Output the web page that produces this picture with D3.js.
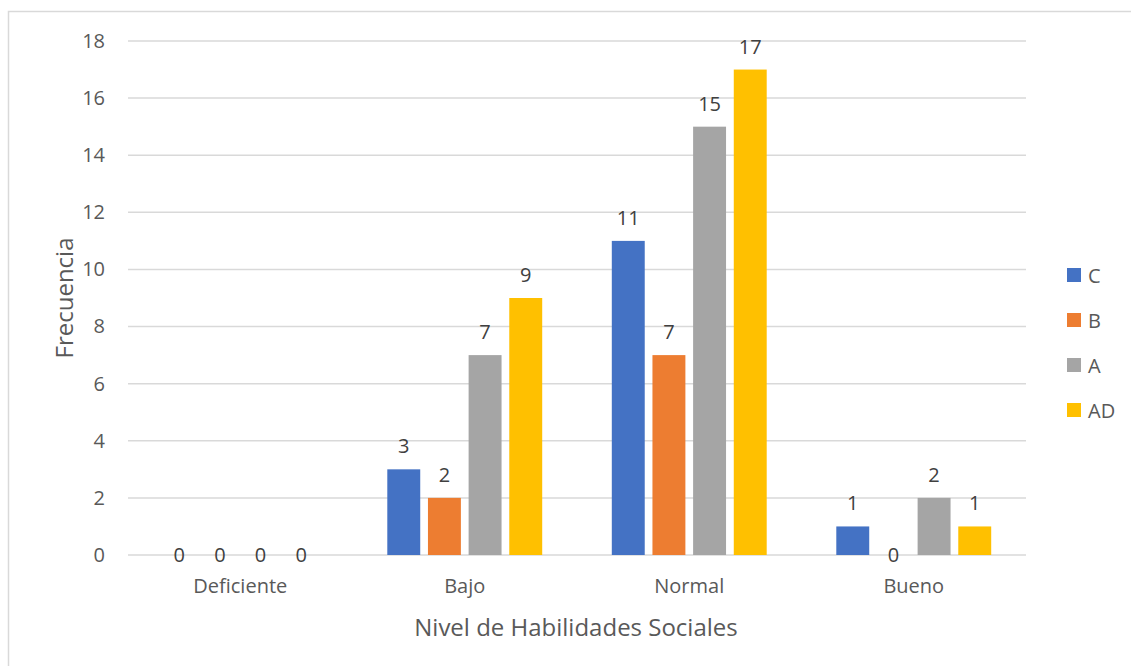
<!DOCTYPE html>
<html>
<head>
<meta charset="utf-8">
<script src="https://cdn.jsdelivr.net/npm/d3@7"></script>
<style>
  body { margin: 0; background: #fff; }
  svg text { font-family: "Open Sans", "Liberation Sans", sans-serif; }
</style>
</head>
<body>
<svg id="chart" width="1131" height="666"></svg>
<script>
'use strict'

const categories = ['Deficiente', 'Bajo', 'Normal', 'Bueno']
const seriesNames = ['C', 'B', 'A', 'AD']
const seriesColors = ['#4472c4', '#ed7d31', '#a5a5a5', '#ffc000']
const valuesC = [0, 3, 11, 1]
const valuesB = [0, 2, 7, 0]
const valuesA = [0, 7, 15, 2]
const valuesAD = [0, 9, 17, 1]
const yTicks = [0, 2, 4, 6, 8, 10, 12, 14, 16, 18]

const allValues = [valuesC, valuesB, valuesA, valuesAD]

const svg = d3.select('#chart')

// borde del gráfico
svg.append('rect')
  .attr('x', 8.5).attr('y', 11.5)
  .attr('width', 1140).attr('height', 680)
  .style('fill', 'none').style('stroke', '#d9d9d9').style('stroke-width', 1.5)

const plotLeft = 128, plotRight = 1026, plotTop = 41, plotBottom = 555

let scaleY = d3.scaleLinear().domain([0, 18]).range([plotBottom, plotTop])
let scaleX0 = d3.scaleBand().domain(categories).range([plotLeft, plotRight])
  .paddingInner(0.31).paddingOuter(0.155)
let scaleX1 = d3.scaleBand().domain(seriesNames).range([0, scaleX0.bandwidth()])
  .paddingInner(0.19)

// líneas de cuadrícula
svg.append('g').selectAll('line').data(yTicks).join('line')
  .attr('x1', plotLeft).attr('x2', plotRight)
  .attr('y1', d => scaleY(d)).attr('y2', d => scaleY(d))
  .style('stroke', '#d9d9d9').style('stroke-width', 1.5)

// eje Y
let axisY = d3.axisLeft(scaleY).tickValues(yTicks).tickSize(0).tickPadding(0)
let gy = svg.append('g').attr('transform', `translate(105, 0)`).call(axisY)
gy.select('.domain').remove()
gy.selectAll('text').style('font-size', '20px').style('fill', '#595959')

// eje X
let axisX = d3.axisBottom(scaleX0).tickSize(0).tickPadding(0)
let gx = svg.append('g').attr('transform', `translate(0, 579)`).call(axisX)
gx.select('.domain').remove()
gx.selectAll('text').style('font-size', '20px').style('fill', '#595959')

// barras
const rows = []
categories.forEach((c, i) => {
  seriesNames.forEach((s, j) => {
    rows.push({ cat: c, ser: s, v: allValues[j][i], color: seriesColors[j] })
  })
})

svg.append('g').selectAll('rect').data(rows).join('rect')
  .attr('x', d => scaleX0(d.cat) + scaleX1(d.ser))
  .attr('y', d => scaleY(d.v))
  .attr('width', scaleX1.bandwidth())
  .attr('height', d => scaleY(0) - scaleY(d.v))
  .style('fill', d => d.color)

// etiquetas de datos
svg.append('g').selectAll('text').data(rows).join('text')
  .attr('x', d => scaleX0(d.cat) + scaleX1(d.ser) + scaleX1.bandwidth() / 2)
  .attr('y', d => d.v > 0 ? scaleY(d.v) - 16 : scaleY(0) + 7)
  .attr('text-anchor', 'middle')
  .style('font-size', '20px').style('fill', '#404040')
  .text(d => d.v)

// títulos de ejes
svg.append('text')
  .attr('transform', `translate(73, ${(plotTop + plotBottom) / 2}) rotate(-90)`)
  .attr('text-anchor', 'middle')
  .style('font-size', '24px').style('fill', '#595959')
  .text('Frecuencia')

svg.append('text')
  .attr('x', 576).attr('y', 636)
  .attr('text-anchor', 'middle')
  .style('font-size', '24px').style('fill', '#595959')
  .text('Nivel de Habilidades Sociales')

// leyenda
let legend = svg.append('g').selectAll('g').data(seriesNames).join('g')
  .attr('transform', (d, i) => `translate(1067, ${268 + i * 45})`)
legend.append('rect')
  .attr('width', 14).attr('height', 14)
  .style('fill', (d, i) => seriesColors[i])
legend.append('text')
  .attr('x', 21).attr('y', 15)
  .style('font-size', '20px').style('fill', '#595959')
  .text(d => d)
</script>
</body>
</html>
